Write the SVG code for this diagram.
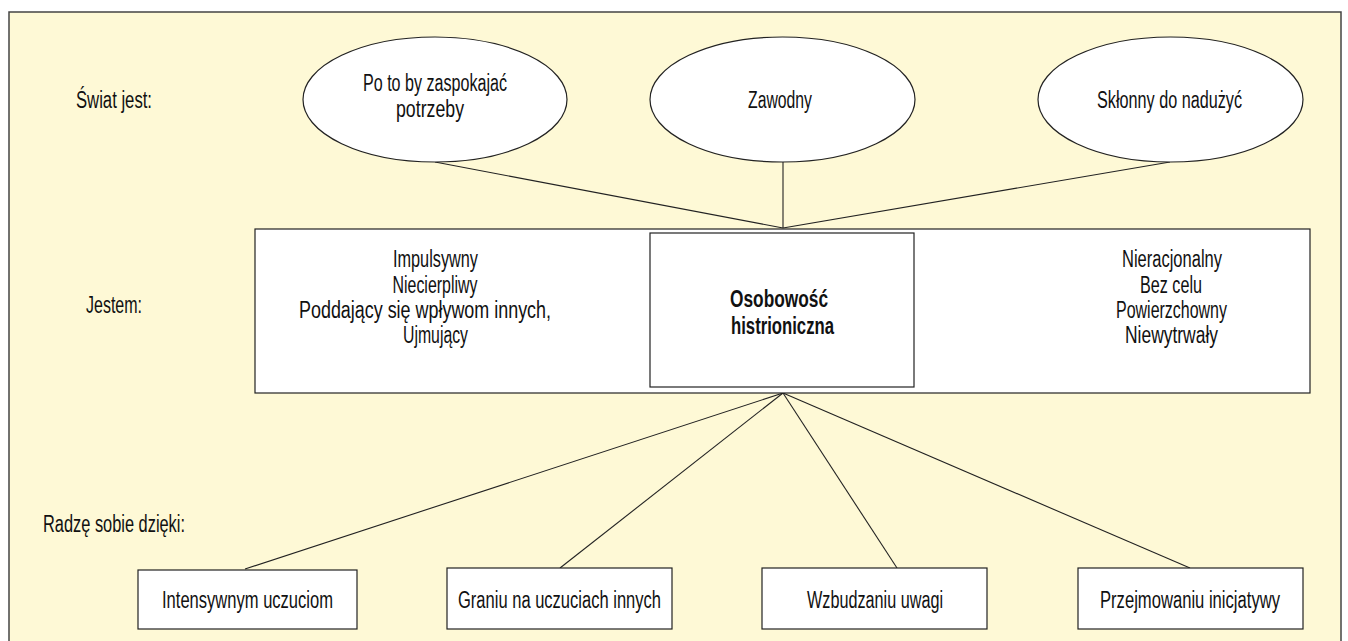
<svg xmlns="http://www.w3.org/2000/svg" width="1348" height="641" viewBox="0 0 1348 641">
<style>
text{font-family:"Liberation Sans",Arial,sans-serif;font-size:23.5px;fill:#111;text-anchor:middle}
.lbl{text-anchor:start}
.b{font-weight:bold}
.node{fill:#fff;stroke:#222;stroke-width:1.2}
.frame{fill:#fef9d6;stroke:#444;stroke-width:1.5}
.con{stroke:#222;stroke-width:1.1;fill:none}
</style>
<rect width="1348" height="641" fill="#fff"/>
<rect class="frame" x="9" y="12" width="1332" height="640"/>
<text class="lbl" x="76" y="108" textLength="76" lengthAdjust="spacingAndGlyphs">Świat jest:</text>
<text class="lbl" x="86" y="313" textLength="56" lengthAdjust="spacingAndGlyphs">Jestem:</text>
<text class="lbl" x="43" y="532" textLength="142" lengthAdjust="spacingAndGlyphs">Radzę sobie dzięki:</text>
<g id="connectors">
<line class="con" x1="435" y1="162" x2="783" y2="228"/>
<line class="con" x1="783" y1="162" x2="783" y2="228"/>
<line class="con" x1="1170" y1="162" x2="783" y2="228"/>
<line class="con" x1="783" y1="393" x2="245" y2="569"/>
<line class="con" x1="783" y1="393" x2="560" y2="568"/>
<line class="con" x1="783" y1="393" x2="897" y2="568"/>
<line class="con" x1="783" y1="393" x2="1190" y2="568"/>
</g>
<g id="e1">
<ellipse class="node" cx="435" cy="99.5" rx="132" ry="62.5"/>
<text x="435" y="91" textLength="144" lengthAdjust="spacingAndGlyphs">Po to by zaspokajać</text>
<text x="430" y="117" textLength="68" lengthAdjust="spacingAndGlyphs">potrzeby</text>
</g>
<g id="e2">
<ellipse class="node" cx="782.5" cy="99.5" rx="132.5" ry="62.5"/>
<text x="780" y="108" textLength="64" lengthAdjust="spacingAndGlyphs">Zawodny</text>
</g>
<g id="e3">
<ellipse class="node" cx="1170.5" cy="99.5" rx="132.5" ry="62.5"/>
<text x="1169.5" y="108" textLength="145" lengthAdjust="spacingAndGlyphs">Skłonny do nadużyć</text>
</g>
<g id="main">
<rect class="node" x="255" y="229" width="1055" height="164"/>
<text x="435.5" y="267" textLength="85" lengthAdjust="spacingAndGlyphs">Impulsywny</text>
<text x="435" y="293" textLength="85" lengthAdjust="spacingAndGlyphs">Niecierpliwy</text>
<text x="425" y="318" textLength="252" lengthAdjust="spacingAndGlyphs">Poddający się wpływom innych,</text>
<text x="435.5" y="343" textLength="65" lengthAdjust="spacingAndGlyphs">Ujmujący</text>
<text x="1172" y="267" textLength="100" lengthAdjust="spacingAndGlyphs">Nieracjonalny</text>
<text x="1171" y="293" textLength="62" lengthAdjust="spacingAndGlyphs">Bez celu</text>
<text x="1171.5" y="318" textLength="111" lengthAdjust="spacingAndGlyphs">Powierzchowny</text>
<text x="1171.5" y="343" textLength="93" lengthAdjust="spacingAndGlyphs">Niewytrwały</text>
</g>
<g id="center">
<rect class="node" x="650" y="233" width="264" height="154"/>
<text class="b" x="779" y="307" textLength="98" lengthAdjust="spacingAndGlyphs">Osobowość</text>
<text class="b" x="782.5" y="334" textLength="103" lengthAdjust="spacingAndGlyphs">histrioniczna</text>
</g>
<g id="b1">
<rect class="node" x="138" y="570" width="219" height="59"/>
<text x="247.5" y="608" textLength="171" lengthAdjust="spacingAndGlyphs">Intensywnym uczuciom</text>
</g>
<g id="b2">
<rect class="node" x="447" y="568" width="225" height="61"/>
<text x="559.5" y="608" textLength="203" lengthAdjust="spacingAndGlyphs">Graniu na uczuciach innych</text>
</g>
<g id="b3">
<rect class="node" x="762" y="568" width="225" height="61"/>
<text x="875" y="608" textLength="136" lengthAdjust="spacingAndGlyphs">Wzbudzaniu uwagi</text>
</g>
<g id="b4">
<rect class="node" x="1078" y="568" width="225" height="61"/>
<text x="1190" y="608" textLength="180" lengthAdjust="spacingAndGlyphs">Przejmowaniu inicjatywy</text>
</g>
</svg>
